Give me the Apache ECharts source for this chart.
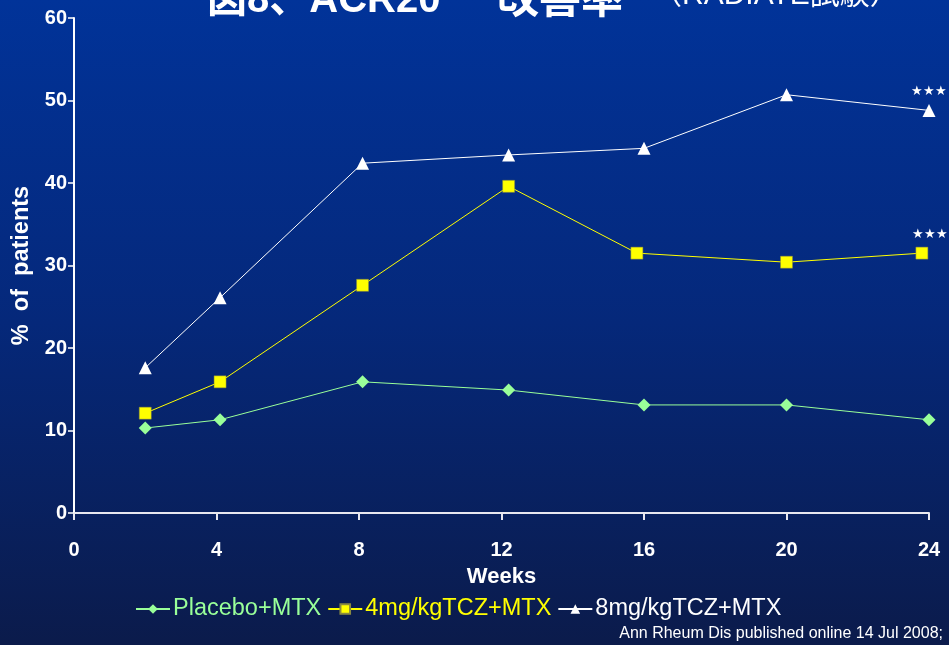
<!DOCTYPE html>
<html>
<head>
<meta charset="utf-8">
<style>
  html, body { margin: 0; padding: 0; background: #0a1c50; }
  #chart { width: 949px; height: 645px; }
</style>
<script src="https://cdn.jsdelivr.net/npm/echarts@6/dist/echarts.min.js"></script>
</head>
<body>
<div id="chart"></div>
<script>
// ACR20 response over 24 weeks, three treatment arms
const seriesNames = ['Placebo+MTX', '4mg/kgTCZ+MTX', '8mg/kgTCZ+MTX'];
const weeksA = [2, 4.1, 8.1, 12.2, 16, 20, 24];
const weeksB = [2, 4.1, 8.1, 12.2, 15.8, 20, 23.8];
const placebo = [10.3, 11.3, 15.9, 14.9, 13.1, 13.1, 11.3];
const tcz4 = [12.1, 15.9, 27.6, 39.6, 31.5, 30.4, 31.5];
const tcz8 = [17.6, 26.1, 42.4, 43.4, 44.2, 50.7, 48.8];
const xTicks = [0, 4, 8, 12, 16, 20, 24];
const yTicks = [0, 10, 20, 30, 40, 50, 60];
const colors = ['#99ff99', '#ffff00', '#ffffff'];
const lastMark = '★★★';

const font = '"Liberation Sans", Arial, sans-serif';
const cjk = '"Liberation Sans", "Noto Sans CJK JP", sans-serif';

function pairs(xs, ys, starLast, starShift) {
  return ys.map((v, i) => {
    const item = { value: [xs[i], v] };
    if (starLast && i === ys.length - 1) {
      item.label = {
        show: true, position: 'top', distance: 6, offset: [starShift, 0],
        formatter: lastMark, color: '#ffffff', fontSize: 13, fontFamily: font
      };
    }
    return item;
  });
}

const chart = echarts.init(document.getElementById('chart'));
chart.setOption({
  animation: false,
  backgroundColor: {
    type: 'linear', x: 0, y: 0, x2: 0, y2: 1,
    colorStops: [
      { offset: 0, color: '#013399' },
      { offset: 0.5, color: '#05287a' },
      { offset: 1, color: '#0b1b4b' }
    ]
  },
  graphic: [
    { type: 'text', left: 207, top: -19,
      style: { text: '図8、ACR20', fill: '#ffffff', font: 'bold 40px ' + cjk } },
    { type: 'text', left: 497, top: -20,
      style: { text: '改善率', fill: '#ffffff', font: 'bold 42px ' + cjk } },
    { type: 'text', left: 652, top: -19,
      style: { text: '（RADIATE試験）', fill: '#ffffff', font: '30px ' + cjk } },
    { type: 'text', right: 6, top: 626,
      style: { text: 'Ann Rheum Dis published online 14 Jul 2008;', fill: '#ffffff', font: '16px ' + font } }
  ],
  grid: { left: 74, right: 20, top: 18, bottom: 132 },
  legend: {
    left: 130, top: 592,
    itemWidth: 34, itemHeight: 12, itemGap: 6,
    textStyle: { fontSize: 23.5, fontFamily: font, padding: [0, 0, 0, -2] },
    data: seriesNames.map((n, i) => ({ name: n, textStyle: { color: colors[i] } }))
  },
  xAxis: {
    type: 'value', min: xTicks[0], max: xTicks[xTicks.length - 1], interval: 4,
    name: 'Weeks', nameLocation: 'middle', nameGap: 53,
    nameTextStyle: { color: '#ffffff', fontSize: 22, fontWeight: 'bold', fontFamily: font },
    axisLine: { lineStyle: { color: '#e8e8f0', width: 2 } },
    axisTick: { show: true, inside: false, length: 7, lineStyle: { color: '#e8e8f0', width: 2 } },
    axisLabel: { color: '#ffffff', fontSize: 20, fontWeight: 'bold', fontFamily: font, margin: 27 },
    splitLine: { show: false }
  },
  yAxis: {
    type: 'value', min: yTicks[0], max: yTicks[yTicks.length - 1], interval: 10,
    name: '%  of  patients', nameLocation: 'middle', nameGap: 40, nameRotate: 90,
    nameTextStyle: { color: '#ffffff', fontSize: 23.5, fontWeight: 'bold', fontFamily: font },
    axisLine: { show: true, lineStyle: { color: '#ffffff', width: 2 } },
    axisTick: { show: true, inside: false, length: 6, lineStyle: { color: '#ffffff', width: 1.5 } },
    axisLabel: { color: '#ffffff', fontSize: 20, fontWeight: 'bold', fontFamily: font, margin: 7 },
    splitLine: { show: false }
  },
  series: [
    { name: seriesNames[0], type: 'line', data: pairs(weeksA, placebo, false, 0),
      symbol: 'diamond', symbolSize: 13, color: colors[0],
      lineStyle: { width: 1, color: colors[0] }, itemStyle: { color: colors[0] } },
    { name: seriesNames[1], type: 'line', data: pairs(weeksB, tcz4, true, 8),
      symbol: 'rect', symbolSize: 12, color: colors[1],
      lineStyle: { width: 1, color: colors[1] },
      itemStyle: { color: colors[1], borderColor: '#8a8a40', borderWidth: 0.5 } },
    { name: seriesNames[2], type: 'line', data: pairs(weeksA, tcz8, true, 0),
      symbol: 'triangle', symbolSize: 13, color: colors[2],
      lineStyle: { width: 1, color: colors[2] }, itemStyle: { color: colors[2] } }
  ]
});
</script>
</body>
</html>
